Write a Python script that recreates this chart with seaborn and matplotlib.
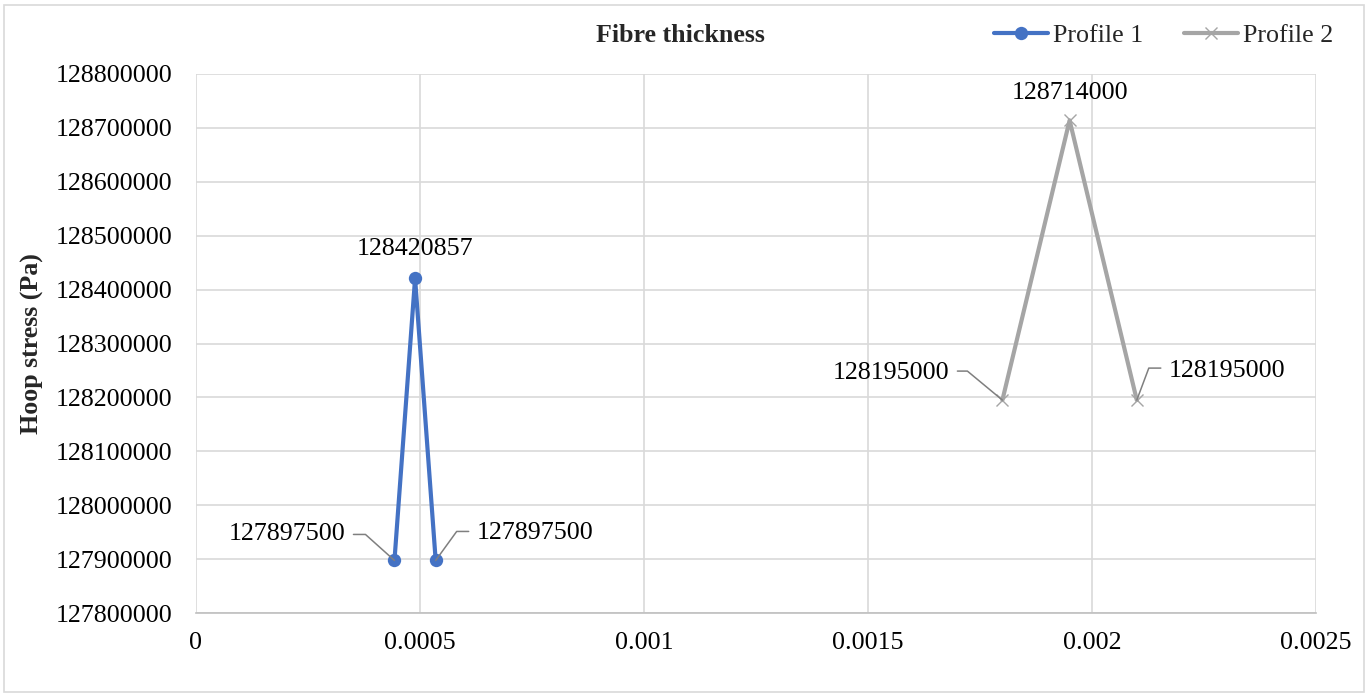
import matplotlib
matplotlib.use("Agg")
import matplotlib.pyplot as plt
import seaborn as sns
import pandas as pd
from matplotlib.lines import Line2D
from matplotlib.patches import Rectangle

# Fibre thickness (m) and hoop stress (Pa) for two profiles
profile1_thickness = [0.000443, 0.000489, 0.000535]
profile1_stress = [127897500, 128420857, 127897500]
profile2_thickness = [0.0018, 0.00195, 0.0021]
profile2_stress = [128195000, 128714000, 128195000]
series_names = ["Profile 1", "Profile 2"]
x_ticks = [0, 0.0005, 0.001, 0.0015, 0.002, 0.0025]
x_tick_labels = ["0", "0.0005", "0.001", "0.0015", "0.002", "0.0025"]
y_ticks = list(range(127800000, 128800001, 100000))

sns.set_theme(style="white")
plt.rcParams["font.family"] = ["Liberation Serif", "DejaVu Serif"]
FS = 18.7

W, H = 1369, 696
fig = plt.figure(figsize=(W / 100, H / 100), dpi=100)
ax = fig.add_axes([196 / W, 1 - 613 / H, (1316 - 196) / W, (613 - 74) / H])

df1 = pd.DataFrame({"x": profile1_thickness, "y": profile1_stress})
df2 = pd.DataFrame({"x": profile2_thickness, "y": profile2_stress})

c1, c2 = "#4472C4", "#A5A5A5"
sns.lineplot(data=df1, x="x", y="y", ax=ax, sort=False, color=c1, lw=3.0,
             marker="o", markersize=9.6, markeredgewidth=0, markerfacecolor=c1,
             zorder=3)
sns.lineplot(data=df2, x="x", y="y", ax=ax, sort=False, color=c2, lw=3.0,
             marker="x", markersize=9, markeredgewidth=1.0, markeredgecolor=c2,
             zorder=3)

ax.set_xlim(0, 0.0025)
ax.set_ylim(127800000, 128800000)
ax.set_xticks(x_ticks)
ax.set_xticklabels(x_tick_labels)
ax.set_yticks(y_ticks)
ax.set_yticklabels([str(v) for v in y_ticks])
ax.tick_params(axis="both", length=0, labelsize=FS, colors="black")
ax.tick_params(axis="y", pad=17)
ax.tick_params(axis="x", pad=14)
ax.grid(True, color="#d9d9d9", lw=1.2)
ax.set_axisbelow(True)
for s in ["top", "right", "left"]:
    ax.spines[s].set_visible(False)
ax.spines["bottom"].set_color("#bfbfbf")
ax.spines["bottom"].set_linewidth(1.2)
ax.set_xlabel("")
ax.set_ylabel("Hoop stress (Pa)", fontsize=FS, fontweight="bold")
ax.yaxis.set_label_coords(-(196 - 44) / (1316 - 196), 0.5)

fig.text(680 / W, 1 - 35 / H, "Fibre thickness", ha="center", va="center",
         fontsize=FS, fontweight="bold")

handles = [
    Line2D([], [], color=c1, lw=3.0, marker="o", markersize=9.6,
           markeredgewidth=0),
    Line2D([], [], color=c2, lw=3.0, marker="x", markersize=9,
           markeredgewidth=1.0),
]
fig.legend(handles, series_names, ncol=2, frameon=False, fontsize=FS,
           loc="center right", bbox_to_anchor=(1333 / W, 1 - 35 / H),
           handlelength=2.05, handletextpad=0.2, columnspacing=1.6,
           borderpad=0, borderaxespad=0)

# Value labels: top points directly above, others with leader lines
leader_color = "#7f7f7f"


def label_above(x, y, dy=30):
    ax.annotate(f"{y}", (x, y), xytext=(0, dy), textcoords="offset pixels",
                ha="center", va="center", fontsize=FS, color="black")


def label_leader(x, y, p_diag, p_end, p_text, ha):
    px, py = ax.transData.transform((x, y))
    xs = [px, px + p_diag[0], px + p_end[0]]
    ys = [py, py + p_diag[1], py + p_end[1]]
    fig.add_artist(Line2D(xs, ys, transform=None, color=leader_color, lw=1.1))
    ax.annotate(f"{y}", (x, y), xytext=p_text, textcoords="offset pixels",
                ha=ha, va="center", fontsize=FS, color="black")


label_above(profile1_thickness[1], profile1_stress[1], 29)
label_above(profile2_thickness[1], profile2_stress[1], 27)
label_leader(profile1_thickness[0], profile1_stress[0], (-29, 26), (-41, 26), (-49, 26), "right")
label_leader(profile1_thickness[2], profile1_stress[2], (21, 29), (33, 29), (41, 27), "left")
label_leader(profile2_thickness[0], profile2_stress[0], (-35, 29), (-45, 29), (-53, 27), "right")
label_leader(profile2_thickness[2], profile2_stress[2], (12, 32), (24, 32), (32, 29), "left")

fig.add_artist(Rectangle((4 / W, 4 / H), (W - 9) / W, (H - 9) / H,
                         transform=fig.transFigure, fill=False,
                         edgecolor="#d9d9d9", lw=1.2))

fig.savefig("out.png", dpi=100, facecolor="white")
